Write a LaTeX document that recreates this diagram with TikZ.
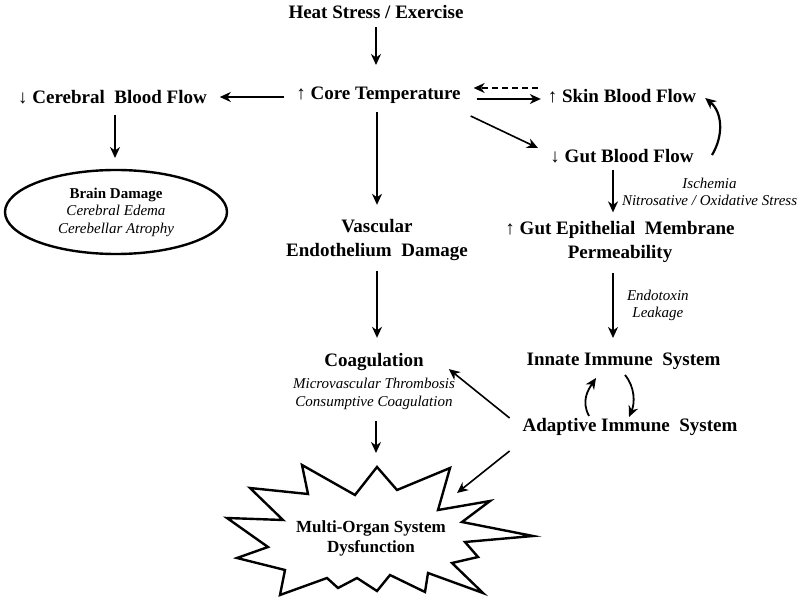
\documentclass[tikz,border=0pt]{standalone}
\usepackage{fontspec}
\setmainfont{Liberation Serif}
\usetikzlibrary{arrows.meta,calc,shapes.geometric}
\begin{document}
\begin{tikzpicture}[x=1pt,y=1pt,
  lbl/.style={font=\fontsize{19}{24}\selectfont\bfseries, inner sep=0pt, outer sep=0pt, align=center},
  one/.style={lbl, text height=13pt, text depth=0pt},
  note/.style={font=\fontsize{15}{17.5}\selectfont\itshape, inner sep=0pt, outer sep=0pt, align=center},
  arr/.style={line width=1.6pt, -{Stealth[length=11pt,width=10pt,inset=3.5pt]}},
  carr/.style={line width=2.2pt, -{Stealth[length=11pt,width=10pt,inset=3.5pt]}},
  burst/.style={line width=2.4pt, line join=miter},
  ]
\useasboundingbox (0,0) rectangle (800,-601);

% nodes
\node[one] (heat) at (376,-12) {Heat Stress / Exercise};
\node[one] (core) at (378.5,-93) {↑ Core Temperature};
\node[one] (cereb) at (112.5,-97) {↓ Cerebral\ \ Blood Flow};
\node[draw, ellipse, line width=2.4pt, minimum width=222pt, minimum height=84pt,
      inner sep=0pt, outer sep=0pt, align=center, font=\fontsize{15}{17.5}\selectfont]
      (brain) at (116,-212) {\textbf{Brain Damage}\\\textit{Cerebral Edema}\\\textit{Cerebellar Atrophy}};
\node[one] (skin) at (622,-96) {↑ Skin\ Blood Flow};
\node[one] (gut) at (622,-156) {↓ Gut Blood Flow};
\node[lbl] (vasc) at (377,-240.5) {Vascular\\Endothelium\ \ Damage};
\node[lbl] (perm) at (620,-242) {↑ Gut Epithelial\ \ Membrane\\Permeability};
\node[one] (innate) at (623.5,-359) {Innate Immune\ \ System};
\node[one] (adapt) at (630,-425) {Adaptive Immune\ \ System};
\node[note] (coag) at (374,-381.3) {{\fontsize{19}{19}\selectfont\bfseries\upshape Coagulation}\\[5pt]Microvascular\ Thrombosis\\Consumptive Coagulation};

% starburst
\draw[burst] (377,-467) -- (397,-490) -- (450,-468) -- (438,-510) -- (490,-501) -- (462,-522)
  -- (533,-536) -- (465,-542) -- (478,-557) -- (452,-563) -- (483,-593) -- (428,-573)
  -- (425,-592) -- (390,-575) -- (377,-591) -- (357,-578) -- (338,-588) -- (327,-578)
  -- (280,-595) -- (285,-570) -- (237,-558) -- (268,-547) -- (227,-518) -- (283,-520)
  -- (250,-488) -- (308,-494) -- (302,-465) -- (355,-495) -- cycle;
\node[font=\fontsize{17}{20}\selectfont\bfseries, align=center, inner sep=0pt] (mods) at (371,-538.7) {Multi-Organ System\\Dysfunction};
\coordinate (burstTop) at (376,-453);
\coordinate (burstNE) at (457,-493);

% connectors
\draw[arr, shorten <=8.5pt, shorten >=21.5pt] (heat.south) -- (heat.south |- core.north);
\draw[arr, shorten <=12pt, shorten >=13pt] ([yshift=-4pt]core.west) -- (cereb.east);
\draw[arr, shorten <=11.5pt, shorten >=12pt] ([xshift=2.5pt]cereb.south) -- ([xshift=2.5pt]cereb.south |- brain.north);
\draw[arr, shorten <=16pt, shorten >=7pt] ([yshift=-6pt]core.east) -- ([yshift=-6pt]core.east -| skin.west);
\draw[arr, dash pattern=on 6pt off 4pt, shorten <=10pt, shorten >=13pt] ([yshift=8pt]skin.west) -- ([yshift=8pt]skin.west -| core.east);
\draw[arr] ([xshift=10pt,yshift=-23pt]core.east) -- ([xshift=-12.5pt,yshift=8pt]gut.west);
\draw[carr] ([xshift=18.5pt,yshift=1pt]gut.east) .. controls +(12,20) and +(17,-14) .. ([xshift=9pt,yshift=-2pt]skin.east);
\draw[arr, shorten <=12.5pt, shorten >=15pt] ([xshift=-1.5pt]core.south) -- ([xshift=-1.5pt]core.south |- vasc.north);
\draw[arr, shorten <=9.6pt, shorten >=15.3pt] (vasc.south) -- (vasc.south |- coag.north);
\draw[arr, shorten <=7.5pt, shorten >=9pt] ([xshift=-9pt]gut.south) -- ([xshift=-9pt]gut.south |- perm.north)
  node[note, midway, anchor=west, xshift=9pt] (isch) {Ischemia\\Nitrosative / Oxidative Stress};
\draw[arr, shorten <=10.6pt, shorten >=14.5pt] ([xshift=-7pt]perm.south) -- ([xshift=-7pt]perm.south |- innate.north)
  node[note, midway, anchor=west, xshift=14pt, yshift=2pt] (endo) {Endotoxin\\Leakage};
\draw[arr] ([xshift=-13pt,yshift=7pt]adapt.west) -- ([xshift=-6pt,yshift=-16pt]coag.north east);
\draw[arr] ([xshift=-13pt,yshift=-26pt]adapt.west) -- (burstNE);
\draw[arr, shorten <=12pt] ([xshift=2pt]coag.south) -- (burstTop);
\draw[carr, line width=1.8pt] ([xshift=-41pt,yshift=2.5pt]adapt.north) .. controls +(-8,15) and +(-8,-12) .. ([xshift=-27.5pt,yshift=-12.5pt]innate.south);
\draw[carr, line width=1.8pt] ([xshift=1.5pt,yshift=-9.5pt]innate.south) .. controls +(10,-12) and +(6,14) .. ([xshift=-1pt,yshift=1.5pt]adapt.north);
\end{tikzpicture}
\end{document}
